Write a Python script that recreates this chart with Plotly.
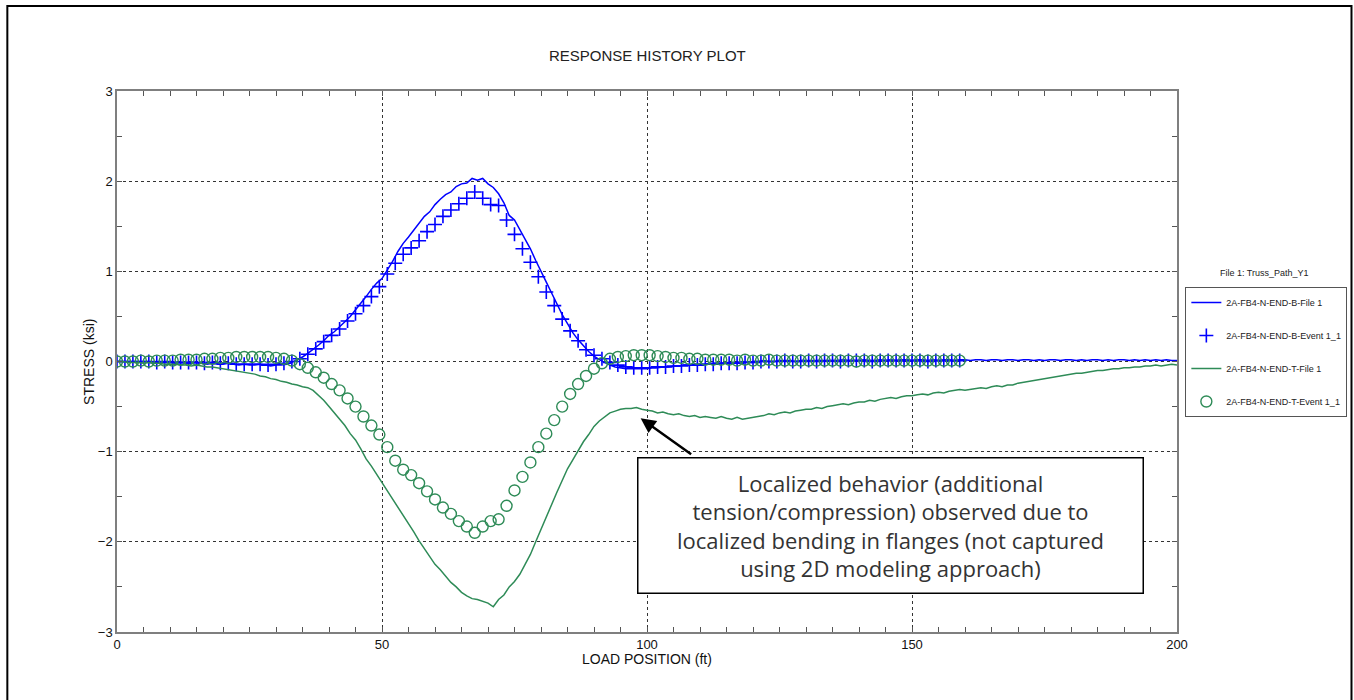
import plotly.graph_objects as go

# ---------------- data ----------------
line_x = list(range(0, 201))  # load position (ft), 1 ft step

b_file = [
    0.00, 0.00, -0.01, 0.00, -0.01, 0.00, -0.01, -0.01, 0.00, -0.01,
    -0.01, -0.02, -0.01, -0.02, -0.02, -0.01, -0.02, -0.03, -0.02, -0.03,
    -0.03, -0.02, -0.03, -0.04, -0.03, -0.04, -0.04, -0.03, -0.04, -0.05,
    -0.04, -0.04, -0.03, -0.01, 0.02, 0.05, 0.09, 0.13, 0.18, 0.23,
    0.29, 0.33, 0.38, 0.44, 0.50, 0.57, 0.64, 0.72, 0.80, 0.87,
    0.92, 1.01, 1.11, 1.22, 1.31, 1.38, 1.46, 1.54, 1.61, 1.66,
    1.74, 1.80, 1.85, 1.88, 1.94, 1.97, 1.98, 2.03, 2.01, 2.03,
    1.97, 1.93, 1.86, 1.76, 1.62, 1.57, 1.46, 1.35, 1.25, 1.12,
    0.99, 0.88, 0.76, 0.64, 0.52, 0.42, 0.32, 0.24, 0.17, 0.11,
    0.06, 0.02, -0.01, -0.04, -0.06, -0.07, -0.08, -0.08, -0.08, -0.08,
    -0.08, -0.07, -0.07, -0.06, -0.06, -0.05, -0.05, -0.04, -0.04, -0.03,
    -0.03, -0.03, -0.02, -0.02, -0.02, -0.01, -0.01, -0.01, 0.00, -0.01,
    0.00, 0.00, 0.01, 0.00, 0.00, 0.01, 0.00, 0.01, 0.00, 0.01,
    0.01, 0.00, 0.01, 0.01, 0.00, 0.01, 0.01, 0.02, 0.01, 0.01,
    0.01, 0.02, 0.01, 0.01, 0.02, 0.01, 0.02, 0.01, 0.02, 0.02,
    0.01, 0.02, 0.02, 0.01, 0.02, 0.01, 0.02, 0.02, 0.01, 0.02,
    0.02, 0.01, 0.02, 0.02, 0.01, 0.02, 0.02, 0.01, 0.02, 0.02,
    0.01, 0.02, 0.02, 0.01, 0.02, 0.01, 0.02, 0.02, 0.01, 0.02,
    0.02, 0.01, 0.02, 0.01, 0.02, 0.02, 0.01, 0.02, 0.01, 0.02,
    0.02, 0.01, 0.02, 0.01, 0.02, 0.01, 0.02, 0.01, 0.02, 0.01, 0.01,
]

t_file = [
    0.00, 0.00, -0.01, -0.01, -0.01, -0.02, -0.01, -0.02, -0.02, -0.03,
    -0.03, -0.03, -0.04, -0.04, -0.05, -0.04, -0.05, -0.06, -0.06, -0.07,
    -0.08, -0.09, -0.10, -0.11, -0.12, -0.13, -0.14, -0.16, -0.17, -0.19,
    -0.20, -0.22, -0.23, -0.25, -0.26, -0.28, -0.29, -0.32, -0.37, -0.43,
    -0.50, -0.57, -0.63, -0.71, -0.80, -0.87, -0.97, -1.08, -1.16, -1.25,
    -1.35, -1.44, -1.53, -1.62, -1.71, -1.80, -1.89, -1.99, -2.08, -2.16,
    -2.25, -2.31, -2.38, -2.45, -2.50, -2.56, -2.60, -2.63, -2.64, -2.66,
    -2.68, -2.72, -2.64, -2.59, -2.50, -2.44, -2.36, -2.25, -2.14, -2.00,
    -1.86, -1.71, -1.57, -1.45, -1.32, -1.19, -1.09, -0.99, -0.89, -0.81,
    -0.72, -0.66, -0.62, -0.57, -0.55, -0.53, -0.52, -0.52, -0.51, -0.53,
    -0.54, -0.55, -0.57, -0.56, -0.58, -0.59, -0.58, -0.60, -0.61, -0.60,
    -0.62, -0.61, -0.62, -0.63, -0.61, -0.63, -0.64, -0.62, -0.64, -0.63,
    -0.62, -0.61, -0.60, -0.58, -0.59, -0.57, -0.56, -0.57, -0.55, -0.54,
    -0.53, -0.53, -0.51, -0.52, -0.50, -0.49, -0.48, -0.47, -0.48, -0.46,
    -0.45, -0.45, -0.43, -0.44, -0.42, -0.41, -0.40, -0.41, -0.39, -0.38,
    -0.38, -0.37, -0.36, -0.37, -0.35, -0.34, -0.35, -0.33, -0.32, -0.31,
    -0.32, -0.31, -0.30, -0.29, -0.30, -0.28, -0.27, -0.28, -0.26, -0.26,
    -0.24, -0.23, -0.22, -0.21, -0.20, -0.19, -0.18, -0.17, -0.16, -0.15,
    -0.14, -0.13, -0.13, -0.12, -0.11, -0.10, -0.10, -0.09, -0.08, -0.08,
    -0.07, -0.07, -0.06, -0.06, -0.05, -0.05, -0.04, -0.05, -0.04, -0.03, -0.04,
]

event_x = [k * 1.5 for k in range(107)]  # event load positions (ft)

b_event = [
    0.00, 0.00, 0.00, 0.00, 0.00, -0.01, 0.00, -0.01, -0.01, -0.01,
    -0.01, -0.02, -0.01, -0.02, -0.02, -0.03, -0.03, -0.03, -0.03, -0.04,
    -0.03, -0.02, 0.00, 0.03, 0.08, 0.14, 0.22, 0.29, 0.36, 0.45,
    0.53, 0.62, 0.72, 0.83, 0.97, 1.09, 1.19, 1.26, 1.34, 1.44,
    1.52, 1.61, 1.68, 1.75, 1.81, 1.88, 1.81, 1.74, 1.73, 1.57,
    1.41, 1.25, 1.10, 0.94, 0.77, 0.62, 0.47, 0.34, 0.23, 0.13,
    0.07, 0.03, -0.01, -0.04, -0.06, -0.07, -0.07, -0.07, -0.06, -0.06,
    -0.05, -0.05, -0.04, -0.04, -0.03, -0.03, -0.02, -0.02, -0.02, -0.01,
    -0.01, 0.00, 0.00, 0.00, 0.01, 0.00, 0.00, 0.01, 0.00, 0.01,
    0.01, 0.00, 0.01, 0.01, 0.01, 0.00, 0.01, 0.01, 0.01, 0.01,
    0.01, 0.01, 0.00, 0.01, 0.01, 0.01, 0.01,
]

t_event = [
    0.00, 0.00, 0.00, 0.01, 0.00, 0.01, 0.01, 0.01, 0.02, 0.02,
    0.02, 0.03, 0.03, 0.04, 0.04, 0.05, 0.05, 0.05, 0.05, 0.05,
    0.04, 0.03, 0.01, -0.03, -0.07, -0.12, -0.18, -0.25, -0.32, -0.41,
    -0.50, -0.61, -0.71, -0.81, -0.95, -1.10, -1.20, -1.26, -1.35, -1.44,
    -1.53, -1.62, -1.69, -1.77, -1.83, -1.90, -1.83, -1.77, -1.75, -1.60,
    -1.43, -1.28, -1.12, -0.95, -0.80, -0.65, -0.50, -0.36, -0.25, -0.16,
    -0.08, -0.02, 0.03, 0.05, 0.06, 0.07, 0.07, 0.07, 0.06, 0.05,
    0.04, 0.04, 0.03, 0.03, 0.02, 0.02, 0.02, 0.02, 0.01, 0.02,
    0.01, 0.01, 0.02, 0.01, 0.01, 0.01, 0.01, 0.01, 0.01, 0.01,
    0.01, 0.01, 0.01, 0.00, 0.01, 0.01, 0.01, 0.01, 0.01, 0.01,
    0.01, 0.01, 0.01, 0.01, 0.01, 0.01, 0.01,
]

names = [
    "2A-FB4-N-END-B-File 1",
    "2A-FB4-N-END-B-Event 1_1",
    "2A-FB4-N-END-T-File 1",
    "2A-FB4-N-END-T-Event 1_1",
]

x_ticks = [0, 50, 100, 150, 200]
y_ticks = [-3, -2, -1, 0, 1, 2, 3]

# ---------------- layout geometry ----------------
SX = 1359 / 1354  # horizontal compensation
W, H = 1359, 700
ML, MT = 117, 91
PW, PH = 1063, 541
MR = W - ML - PW
MB = H - MT - PH


def px_x(px):
    return (px * SX - ML) / PW


def px_y(py):
    return (MT + PH - py) / PH


BLUE = "#0000FF"
GREEN = "#2E8B57"
FONT = "Liberation Sans, Arial, sans-serif"

fig = go.Figure()
fig.add_trace(go.Scatter(x=line_x, y=b_file, mode="lines", name=names[0],
                         line=dict(color=BLUE, width=1.5), legendgroup="a"))
fig.add_trace(go.Scatter(x=event_x, y=b_event, mode="markers", name=names[1],
                         marker=dict(symbol="cross-thin", size=10,
                                     line=dict(color=BLUE, width=1.6), color=BLUE),
                         legendgroup="b"))
fig.add_trace(go.Scatter(x=line_x, y=t_file, mode="lines", name=names[2],
                         line=dict(color=GREEN, width=1.5), legendgroup="c"))
fig.add_trace(go.Scatter(x=event_x, y=t_event, mode="markers", name=names[3],
                         marker=dict(symbol="circle-open", size=11,
                                     line=dict(color=GREEN, width=1.4), color=GREEN),
                         legendgroup="d"))

axis_common = dict(
    showline=True, linecolor="#7f7f7f", linewidth=1.5, mirror="ticks",
    ticks="inside", ticklen=5, tickcolor="#555",
    showgrid=True, gridcolor="#333", griddash="dot", gridwidth=1,
    zeroline=False,
    tickfont=dict(family=FONT, size=13, color="#111"),
)

fig.update_xaxes(range=[0, 200], tickvals=x_ticks,
                 minor=dict(dtick=5, ticks="inside", ticklen=5, tickcolor="#555", showgrid=False),
                 **axis_common)
fig.update_yaxes(range=[-3, 3], tickvals=y_ticks,
                 minor=dict(dtick=0.5, ticks="inside", ticklen=5, tickcolor="#555", showgrid=False),
                 **axis_common)

annotations = [
    dict(text="RESPONSE HISTORY PLOT", xref="paper", yref="paper", x=0.5, y=px_y(55),
         showarrow=False, font=dict(family=FONT, size=15, color="#222"),
         xanchor="center", yanchor="middle"),
    dict(text="LOAD POSITION (ft)", xref="paper", yref="paper", x=0.5, y=px_y(659),
         showarrow=False, font=dict(family=FONT, size=14, color="#111"),
         xanchor="center", yanchor="middle"),
    dict(text="STRESS (ksi)", xref="paper", yref="paper", x=px_x(88), y=0.5,
         showarrow=False, textangle=-90, font=dict(family=FONT, size=14, color="#111"),
         xanchor="center", yanchor="middle"),
    dict(text="File 1: Truss_Path_Y1", xref="paper", yref="paper", x=px_x(1263), y=px_y(273),
         showarrow=False, font=dict(family=FONT, size=9, color="#222"),
         xanchor="center", yanchor="middle"),
    # callout box
    dict(text=("Localized behavior (additional<br>tension/compression) observed due to<br>"
               "localized bending in flanges (not captured<br>using 2D modeling approach)"),
         xref="paper", yref="paper", x=px_x(889), y=px_y(525),
         xanchor="center", yanchor="middle", showarrow=False,
         width=504, height=134, align="center", valign="middle",
         bordercolor="#000", borderwidth=1.5, borderpad=0, bgcolor="white",
         font=dict(family="Open Sans, sans-serif", size=22, color="#333")),
    # arrow
    dict(text="", x=98.8, y=-0.63, xref="x", yref="y", showarrow=True,
         ax=52, ay=37, arrowhead=2, arrowsize=1.2, arrowwidth=2.5, arrowcolor="#000"),
]

shapes = [
    dict(type="rect", xref="paper", yref="paper",
         x0=px_x(7), x1=px_x(1350), y0=px_y(720), y1=px_y(6),
         line=dict(color="#000", width=2), fillcolor="rgba(0,0,0,0)", layer="above"),
]

fig.update_layout(
    width=W, height=H, autosize=False,
    margin=dict(l=ML, r=MR, t=MT, b=MB),
    paper_bgcolor="white", plot_bgcolor="white",
    showlegend=True,
    legend=dict(x=px_x(1184), y=px_y(287), xanchor="left", yanchor="top",
                bordercolor="#555", borderwidth=1, bgcolor="white",
                font=dict(family=FONT, size=9, color="#222"),
                tracegroupgap=14, itemwidth=30),
    annotations=annotations,
    shapes=shapes,
)

fig.write_html("out.html", config={"displayModeBar": False},
               post_script="document.body.style.margin='0';document.body.style.overflow='hidden';")
